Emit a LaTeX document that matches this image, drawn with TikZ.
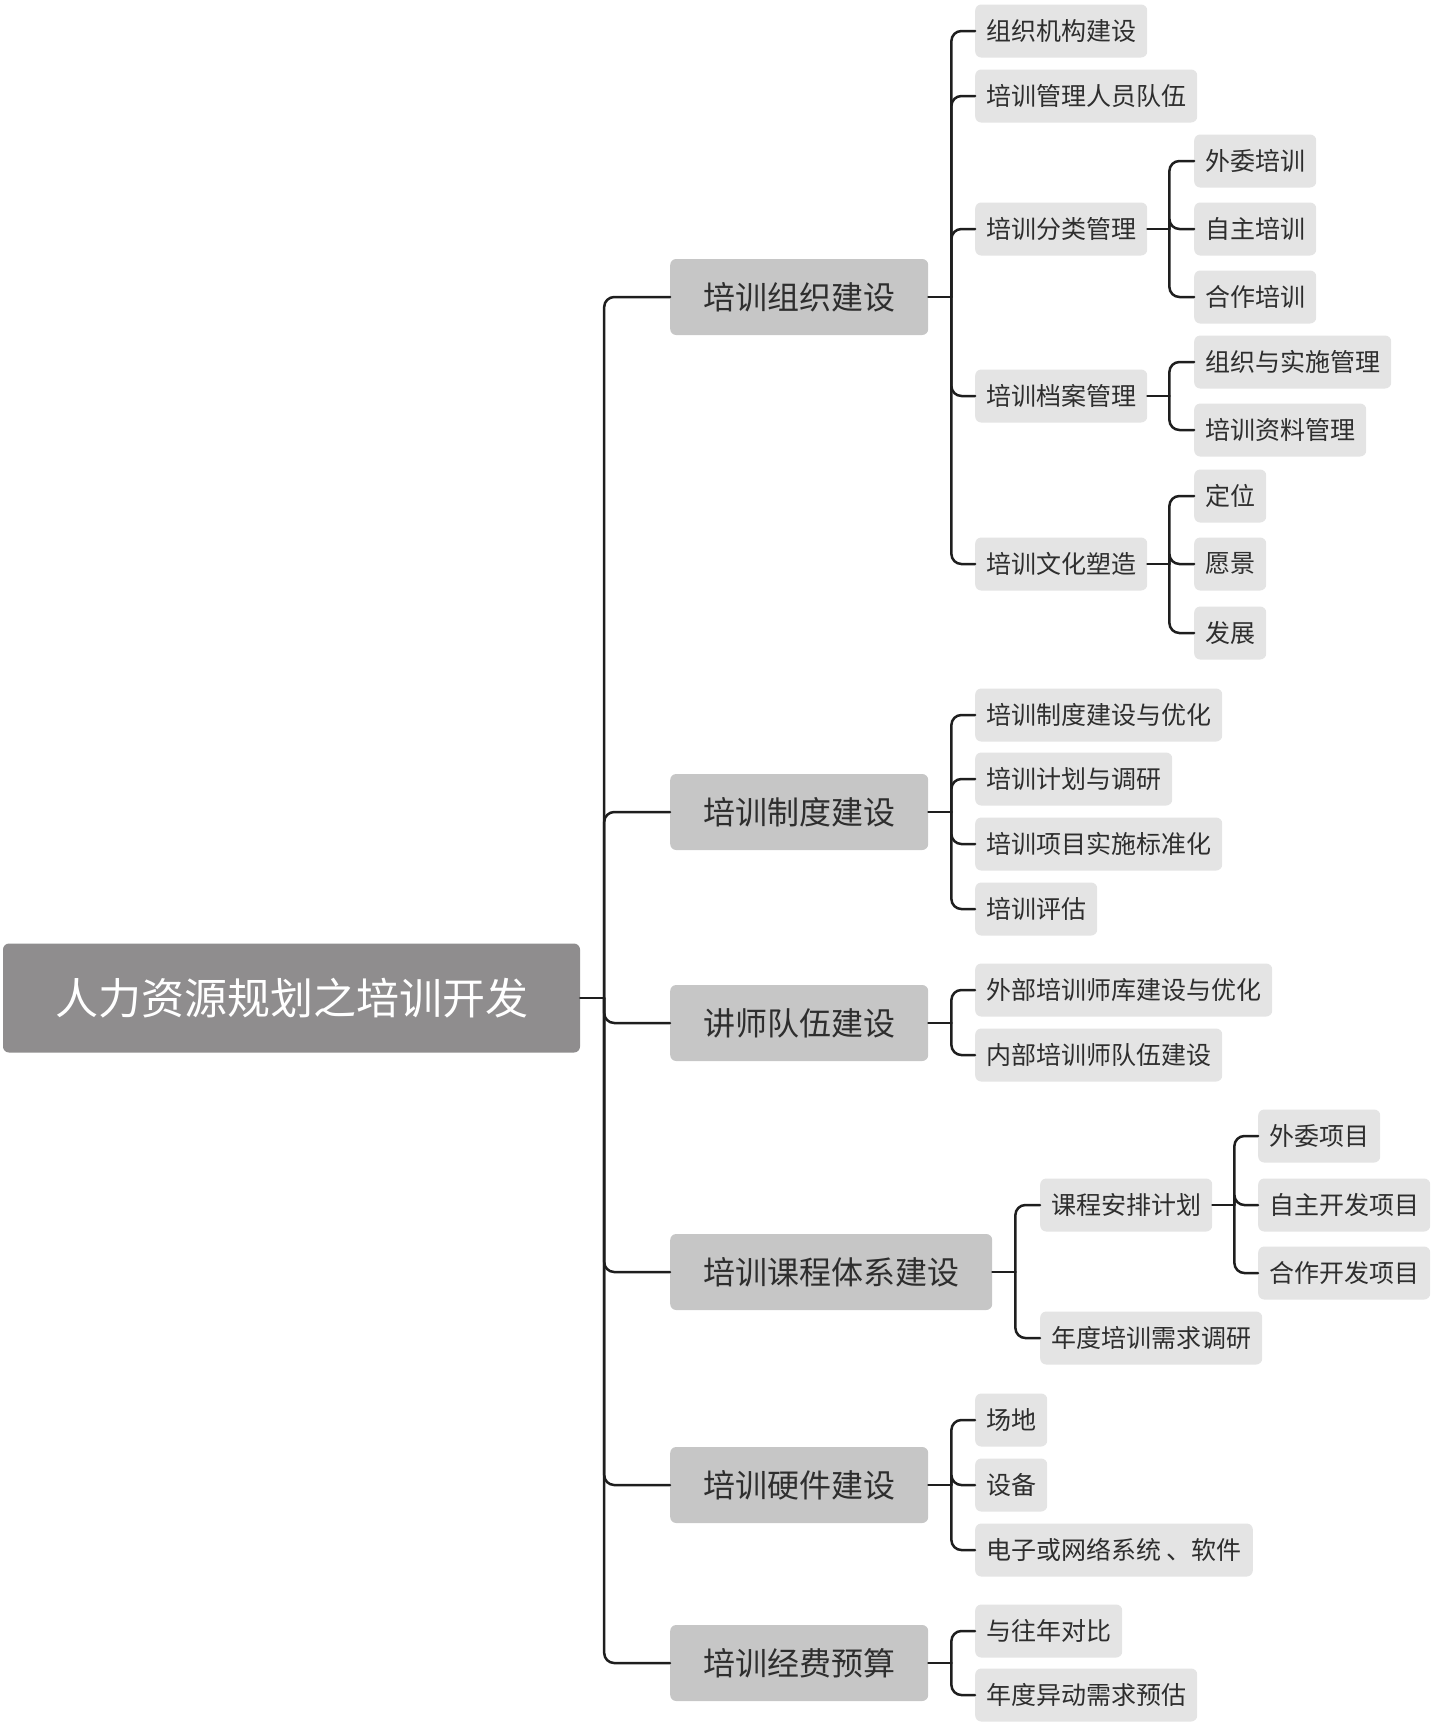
\documentclass[tikz,border=0pt]{standalone}
\usepackage{fontspec}
\setmainfont{Noto Sans CJK SC}
\definecolor{rootgray}{HTML}{8F8D8E}
\definecolor{lonegray}{HTML}{C6C6C6}
\definecolor{ltwogray}{HTML}{E4E4E4}
\definecolor{txt}{HTML}{2E2E2E}
\definecolor{linec}{HTML}{1E1E1E}
\begin{document}
\begin{tikzpicture}[x=1pt,y=-1pt,
  rootbox/.style={fill=rootgray, rounded corners=6pt, text=white, font=\fontsize{43}{43}\selectfont, minimum width=577pt, minimum height=109pt, inner sep=0pt},
  lone/.style={fill=lonegray, rounded corners=6pt, text=txt, font=\fontsize{32}{32}\selectfont, minimum height=76pt, inner xsep=33pt, inner ysep=0pt, anchor=west},
  ltwo/.style={fill=ltwogray, rounded corners=6pt, text=txt, font=\fontsize{25}{25}\selectfont, minimum height=53pt, inner xsep=11pt, inner ysep=0pt, anchor=west},
  conn/.style={line width=2.5pt, draw=linec, rounded corners=10pt, line cap=round}]
\useasboundingbox (0,0) rectangle (1432,1724);
% root
\node[rootbox] (root) at (291.5,998) {人力资源规划之培训开发};
% level 1
\node[lone] (a) at (670,297) {培训组织建设};
\node[lone] (b) at (670,812) {培训制度建设};
\node[lone] (c) at (670,1023) {讲师队伍建设};
\node[lone] (d) at (670,1272) {培训课程体系建设};
\node[lone] (e) at (670,1485) {培训硬件建设};
\node[lone] (f) at (670,1663) {培训经费预算};
% level 2 under a
\node[ltwo] (a1) at (975,31) {组织机构建设};
\node[ltwo] (a2) at (975,96) {培训管理人员队伍};
\node[ltwo] (a3) at (975,229) {培训分类管理};
\node[ltwo] (a4) at (975,396) {培训档案管理};
\node[ltwo] (a5) at (975,564) {培训文化塑造};
\node[ltwo] (a31) at (1194,161) {外委培训};
\node[ltwo] (a32) at (1194,229) {自主培训};
\node[ltwo] (a33) at (1194,297) {合作培训};
\node[ltwo] (a41) at (1194,362) {组织与实施管理};
\node[ltwo] (a42) at (1194,430) {培训资料管理};
\node[ltwo] (a51) at (1194,496) {定位};
\node[ltwo] (a52) at (1194,564) {愿景};
\node[ltwo] (a53) at (1194,633) {发展};
% under b
\node[ltwo] (b1) at (975,715) {培训制度建设与优化};
\node[ltwo] (b2) at (975,779) {培训计划与调研};
\node[ltwo] (b3) at (975,844) {培训项目实施标准化};
\node[ltwo] (b4) at (975,909) {培训评估};
% under c
\node[ltwo] (c1) at (975,990) {外部培训师库建设与优化};
\node[ltwo] (c2) at (975,1055) {内部培训师队伍建设};
% under d
\node[ltwo] (d1) at (1040,1205) {课程安排计划};
\node[ltwo] (d2) at (1040,1338) {年度培训需求调研};
\node[ltwo] (d11) at (1258,1136) {外委项目};
\node[ltwo] (d12) at (1258,1205) {自主开发项目};
\node[ltwo] (d13) at (1258,1273) {合作开发项目};
% under e
\node[ltwo] (e1) at (975,1420) {场地};
\node[ltwo] (e2) at (975,1485) {设备};
\node[ltwo] (e3) at (975,1550) {电子或网络系统 、软件};
% under f
\node[ltwo] (f1) at (975,1631) {与往年对比};
\node[ltwo] (f2) at (975,1695) {年度异动需求预估};
% connectors
\draw[conn] (root.east) -- ++(24,0) coordinate (jr);
\foreach \c in {a,b,c,d,e,f} \draw[conn] (jr) |- (\c.west);
\draw[conn] (a.east) -- ++(23,0) coordinate (ja);
\foreach \c in {a1,a2,a3,a4,a5} \draw[conn] (ja) |- (\c.west);
\draw[conn] (a3.east) -- ++(22,0) coordinate (ja3);
\foreach \c in {a31,a32,a33} \draw[conn] (ja3) |- (\c.west);
\draw[conn] (a4.east) -- ++(22,0) coordinate (ja4);
\foreach \c in {a41,a42} \draw[conn] (ja4) |- (\c.west);
\draw[conn] (a5.east) -- ++(22,0) coordinate (ja5);
\foreach \c in {a51,a52,a53} \draw[conn] (ja5) |- (\c.west);
\draw[conn] (b.east) -- ++(23,0) coordinate (jb);
\foreach \c in {b1,b2,b3,b4} \draw[conn] (jb) |- (\c.west);
\draw[conn] (c.east) -- ++(23,0) coordinate (jc);
\foreach \c in {c1,c2} \draw[conn] (jc) |- (\c.west);
\draw[conn] (d.east) -- ++(23,0) coordinate (jd);
\foreach \c in {d1,d2} \draw[conn] (jd) |- (\c.west);
\draw[conn] (d1.east) -- ++(22,0) coordinate (jd1);
\foreach \c in {d11,d12,d13} \draw[conn] (jd1) |- (\c.west);
\draw[conn] (e.east) -- ++(23,0) coordinate (je);
\foreach \c in {e1,e2,e3} \draw[conn] (je) |- (\c.west);
\draw[conn] (f.east) -- ++(23,0) coordinate (jf);
\foreach \c in {f1,f2} \draw[conn] (jf) |- (\c.west);
\end{tikzpicture}
\end{document}
